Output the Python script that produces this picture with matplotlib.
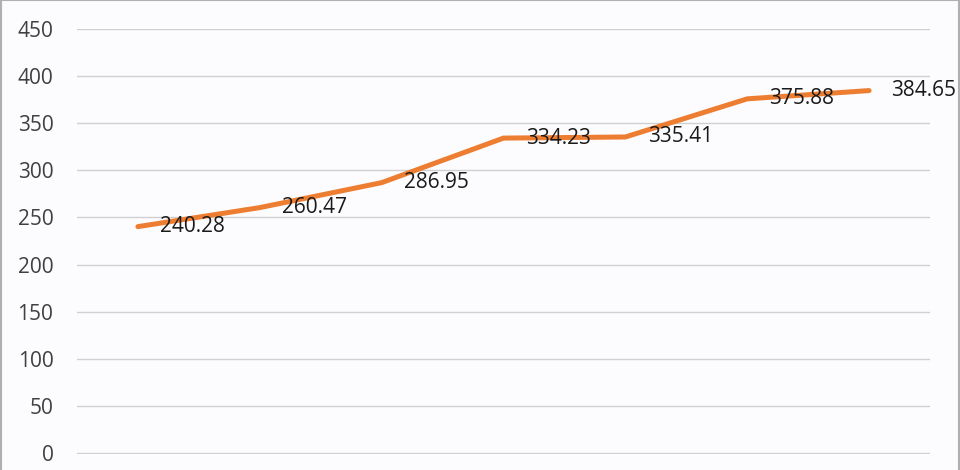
import matplotlib.pyplot as plt
from matplotlib.lines import Line2D

categories = ['1', '2', '3', '4', '5', '6', '7']
values = [240.28, 260.47, 286.95, 334.23, 335.41, 375.88, 384.65]
yticks = [0, 50, 100, 150, 200, 250, 300, 350, 400, 450]

plt.rcParams['font.family'] = ['Open Sans', 'DejaVu Sans']

fig = plt.figure(figsize=(9.6, 4.7), dpi=100, facecolor='#fcfbfd')
ax = fig.add_axes([77 / 960, 16 / 470, 853 / 960, 425 / 470])
ax.set_facecolor('#fcfbfd')

x = list(range(len(categories)))
ax.plot(x, values, color='#ed7d31', linewidth=3.6, solid_capstyle='round', zorder=3)

for xi, v in zip(x, values):
    ax.annotate(f'{v:.2f}', (xi, v), xytext=(16, 0), textcoords='offset points',
                ha='left', va='center', fontsize=15, color='#1a1a1a', zorder=4)

ax.set_xlim(-0.5, len(categories) - 0.5)
ax.set_ylim(-1, 450)
ax.set_yticks(yticks)
ax.set_xticks([])
ax.grid(axis='y', color='#d0d0d0', linewidth=1)
ax.tick_params(axis='y', length=0, pad=17, labelsize=15, labelcolor='#404040')
for s in ax.spines.values():
    s.set_visible(False)

# thin frame on left, top and right of the picture
for xs, ys in [([0.001, 0.001], [0, 1]), ([0, 1], [0.999, 0.999]), ([0.999, 0.999], [0, 1])]:
    fig.add_artist(Line2D(xs, ys, transform=fig.transFigure, color='#b0b0b0', linewidth=1.5))

fig.savefig('out.png', dpi=100, facecolor=fig.get_facecolor())
